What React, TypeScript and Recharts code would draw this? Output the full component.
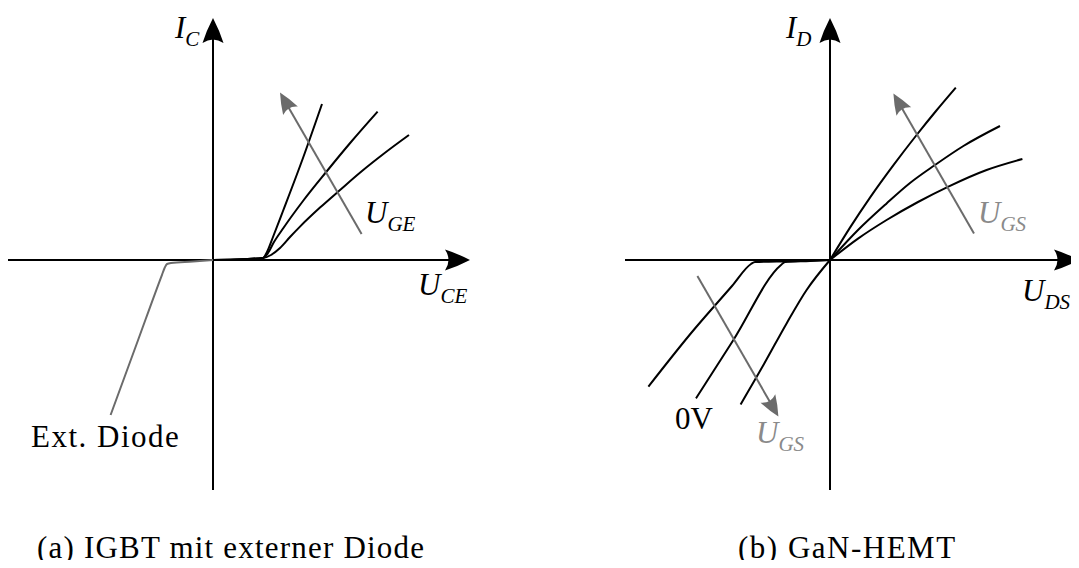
import React from 'react';
import { LineChart, Line, XAxis, YAxis, ReferenceLine } from 'recharts';

type Pt = [number, number];

// IGBT output curves (U_CE, I_C), one per gate voltage
const igbtLowGate: Pt[] = [[0, 0], [1.5, 0.04], [2.5, 0.1], [2.9, 0.25], [3.35, 0.6], [3.85, 1.15], [4.35, 1.67], [5.35, 2.62], [6.35, 3.5], [7.45, 4.45], [8.52, 5.3], [9.8, 6.25]];
const igbtMidGate: Pt[] = [[0, 0], [1.5, 0.04], [2.5, 0.1], [2.75, 0.35], [3.02, 0.85], [3.52, 1.6], [4.5, 2.95], [5.7, 4.45], [6.9, 5.9], [8.23, 7.42]];
const igbtHighGate: Pt[] = [[0, 0], [1.5, 0.04], [2.5, 0.1], [2.7, 0.4], [3.0, 1.15], [3.5, 2.45], [4.5, 5.1], [5.45, 7.8]];
// external anti-parallel diode
const extDiode: Pt[] = [[-5.12, -7.75], [-3.8, -4.15], [-2.55, -0.74], [-2.42, -0.4], [-2.3, -0.2], [-2.1, -0.15], [-1, -0.08], [0, 0]];

// GaN-HEMT first quadrant (U_DS, I_D)
const hemtFwdLow: Pt[] = [[0, 0], [1.4, 1.07], [2.83, 2.0], [4.4, 2.9], [5.92, 3.67], [7.83, 4.5], [9.62, 5.05]];
const hemtFwdMid: Pt[] = [[0, 0], [1.4, 1.5], [2.83, 2.83], [4.0, 3.85], [5.25, 4.75], [6.67, 5.7], [8.5, 6.7]];
const hemtFwdHigh: Pt[] = [[0, 0], [1.0, 1.62], [2.0, 3.12], [3.2, 4.78], [4.33, 6.25], [5.3, 7.45], [6.29, 8.62]];
// third quadrant, reverse conduction
const hemtRevNeg: Pt[] = [[-9.08, -6.33], [-6.9, -3.6], [-4.9, -1.3], [-3.95, -0.2], [-3.75, -0.1], [-2, -0.06], [0, 0]];
const hemtRev0V: Pt[] = [[-6.7, -6.92], [-4.83, -4.0], [-2.45, -0.25], [-2.25, -0.1], [-1, -0.05], [0, 0]];
const hemtRevOn: Pt[] = [[-4.47, -7.22], [-3.3, -5.2], [-2.17, -3.17], [-1.17, -1.5], [0, 0]];

// "increasing gate voltage" arrows, tail -> head
const igbtGateArrow: Pt[] = [[7.43, 1.3], [3.35, 8.37]];
const hemtGateArrowFwd: Pt[] = [[7.2, 1.33], [3.17, 8.33]];
const hemtGateArrowRev: Pt[] = [[-6.63, -0.8], [-2.58, -7.83]];

// axis extents
const igbtXAxis: Pt = [-10.25, 12.85];
const hemtXAxis: Pt = [-10.25, 12.45];
const yAxisSpan: Pt = [-11.5, 12.1];

const PX = 20; // pixels per unit
const H = 568;
const ORIGIN_Y = 260;
const GRAY = '#6b6b6b';
const FONT = '"Liberation Serif", "DejaVu Serif", serif';

const toRows = (pts: Pt[]) => pts.map(([x, y]) => ({ x, y }));

function arrowShape(color: string, headLen: number, headHalf: number, width: number) {
  return (p: any) => {
    const { x1, y1, x2, y2 } = p;
    const dx = x2 - x1;
    const dy = y2 - y1;
    const len = Math.hypot(dx, dy) || 1;
    const ux = dx / len;
    const uy = dy / len;
    const nx = -uy;
    const ny = ux;
    const bx = x2 - ux * headLen;
    const by = y2 - uy * headLen;
    const lx = bx + nx * headHalf;
    const ly = by + ny * headHalf;
    const rx = bx - nx * headHalf;
    const ry = by - ny * headHalf;
    const cx = bx + ux * headLen * 0.28;
    const cy = by + uy * headLen * 0.28;
    // flanks bulge a little, back is notched like the LaTeX tip
    const fl = 0.12 * headHalf;
    const d = `M${x2},${y2} Q${(x2 + lx) / 2 + nx * fl},${(y2 + ly) / 2 + ny * fl} ${lx},${ly} Q${cx},${cy} ${rx},${ry} Q${(x2 + rx) / 2 - nx * fl},${(y2 + ry) / 2 - ny * fl} ${x2},${y2} Z`;
    return (
      <g>
        <line x1={x1} y1={y1} x2={cx} y2={cy} stroke={color} strokeWidth={width} />
        <path d={d} fill={color} />
      </g>
    );
  };
}

const axisArrow = arrowShape('#000', 25, 10.5, 2);
const gateArrow = arrowShape(GRAY, 21, 8.5, 2);

const seg = (a: Pt, b: Pt) => [{ x: a[0], y: a[1] }, { x: b[0], y: b[1] }];

function Panel({
  width,
  originX,
  xAxis,
  curves,
  gray,
  arrows,
}: {
  width: number;
  originX: number;
  xAxis: Pt;
  curves: Pt[][];
  gray: Pt[][];
  arrows: Pt[][];
}) {
  const xDomain: Pt = [-originX / PX, (width - originX) / PX];
  const yDomain: Pt = [-(H - ORIGIN_Y) / PX, ORIGIN_Y / PX];
  return (
    <LineChart width={width} height={H} margin={{ top: 0, right: 0, bottom: 0, left: 0 }}>
      <XAxis type="number" dataKey="x" domain={xDomain} allowDataOverflow hide />
      <YAxis type="number" dataKey="y" domain={yDomain} allowDataOverflow hide />
      <ReferenceLine segment={seg([xAxis[0], 0], [xAxis[1], 0])} shape={axisArrow} />
      <ReferenceLine segment={seg([0, yAxisSpan[0]], [0, yAxisSpan[1]])} shape={axisArrow} />
      {gray.map((c, i) => (
        <Line key={`g${i}`} data={toRows(c)} dataKey="y" type="monotone" stroke={GRAY} strokeWidth={2} dot={false} activeDot={false} isAnimationActive={false} />
      ))}
      {curves.map((c, i) => (
        <Line key={`c${i}`} data={toRows(c)} dataKey="y" type="monotone" stroke="#000" strokeWidth={2} dot={false} activeDot={false} isAnimationActive={false} />
      ))}
      {arrows.map((a, i) => (
        <ReferenceLine key={`a${i}`} segment={seg(a[0], a[1])} shape={gateArrow} />
      ))}
    </LineChart>
  );
}

function MathLabel({ x, y, main, sub, color = '#000' }: { x: number; y: number; main: string; sub: string; color?: string }) {
  return (
    <text x={x} y={y} fill={color} fontStyle="italic" fontSize={31} fontFamily={FONT}>
      {main}
      <tspan dy={8} fontSize={21}>{sub}</tspan>
    </text>
  );
}

export default function App() {
  return (
    <div style={{ margin: -8, position: 'relative', width: 1079, height: H, background: '#fff', overflow: 'hidden' }}>
      <div style={{ position: 'absolute', left: 0, top: 0 }}>
        <Panel
          width={540}
          originX={213}
          xAxis={igbtXAxis}
          curves={[igbtLowGate, igbtMidGate, igbtHighGate]}
          gray={[extDiode]}
          arrows={[igbtGateArrow]}
        />
      </div>
      <div style={{ position: 'absolute', left: 540, top: 0 }}>
        <Panel
          width={539}
          originX={290}
          xAxis={hemtXAxis}
          curves={[hemtFwdLow, hemtFwdMid, hemtFwdHigh, hemtRevNeg, hemtRev0V, hemtRevOn]}
          gray={[]}
          arrows={[hemtGateArrowFwd, hemtGateArrowRev]}
        />
      </div>
      <svg width={1079} height={H} style={{ position: 'absolute', left: 0, top: 0, pointerEvents: 'none' }}>
        <MathLabel x={175} y={38} main="I" sub="C" />
        <MathLabel x={418} y={295} main="U" sub="CE" />
        <MathLabel x={365} y={223} main="U" sub="GE" />
        <text x={31} y={447} fontSize={31} letterSpacing={1.5} fontFamily={FONT}>Ext. Diode</text>

        <MathLabel x={786} y={38} main="I" sub="D" />
        <MathLabel x={1022} y={301} main="U" sub="DS" />
        <MathLabel x={978} y={223} main="U" sub="GS" color="#8a8a8a" />
        <MathLabel x={756} y={443} main="U" sub="GS" color="#8a8a8a" />
        <text x={675} y={429} fontSize={31} fontFamily={FONT}>0V</text>

        <text x={37} y={558} fontSize={31} letterSpacing={1.2} fontFamily={FONT}>(a) IGBT mit externer Diode</text>
        <text x={738} y={558} fontSize={31} letterSpacing={1.5} fontFamily={FONT}>(b) GaN-HEMT</text>
      </svg>
    </div>
  );
}
